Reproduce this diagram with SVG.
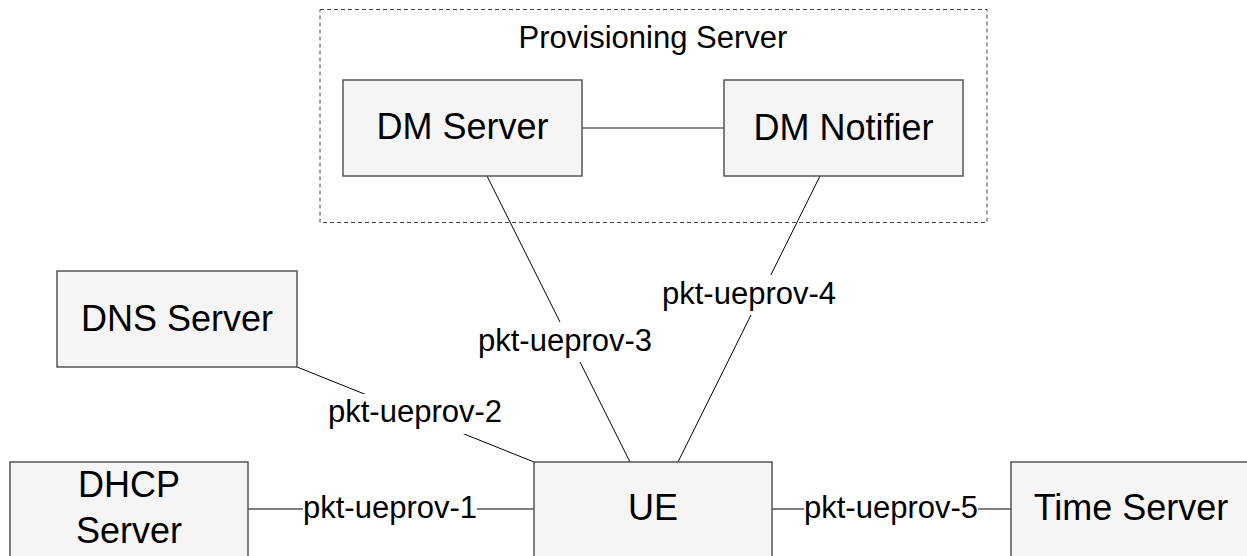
<svg xmlns="http://www.w3.org/2000/svg" width="1247" height="556" viewBox="0 0 1247 556">
  <style>
    .box { fill: #f5f5f5; stroke: #555555; stroke-width: 1.5; }
    .group { fill: none; stroke: #444444; stroke-width: 1; stroke-dasharray: 4 3; }
    .ntext { font-family: "Liberation Sans", Arial, sans-serif; font-size: 36px; fill: #000000; text-anchor: middle; }
    .gtext { font-family: "Liberation Sans", Arial, sans-serif; font-size: 31px; fill: #000000; text-anchor: middle; }
    .edge { stroke: #000000; stroke-width: 1; fill: none; }
    .edge-gray { stroke: #666666; stroke-width: 1.5; fill: none; }
    .lbg { fill: #ffffff; stroke: none; }
    .ltext { font-family: "Liberation Sans", Arial, sans-serif; font-size: 31px; fill: #000000; text-anchor: middle; }
  </style>
  <rect x="0" y="0" width="1247" height="556" fill="#ffffff"/>

  <g id="connectors">
    <line class="edge-gray" x1="582" y1="128" x2="724" y2="128"/>
    <line class="edge" x1="248" y1="509" x2="534" y2="509"/>
    <line class="edge" x1="297" y1="367" x2="534" y2="462"/>
    <line class="edge" x1="487" y1="176" x2="630" y2="462"/>
    <line class="edge" x1="820" y1="176" x2="678" y2="462"/>
    <line class="edge" x1="772" y1="509" x2="1011" y2="509"/>

    <g id="label-1">
      <rect class="lbg" x="303" y="494" width="174" height="30"/>
      <text class="ltext" x="390" y="518">pkt-ueprov-1</text>
    </g>
    <g id="label-2">
      <rect class="lbg" x="328" y="394" width="174" height="40"/>
      <text class="ltext" x="415" y="422">pkt-ueprov-2</text>
    </g>
    <g id="label-3">
      <rect class="lbg" x="478" y="322" width="174" height="40"/>
      <text class="ltext" x="565" y="351">pkt-ueprov-3</text>
    </g>
    <g id="label-4">
      <rect class="lbg" x="662" y="275" width="174" height="40"/>
      <text class="ltext" x="749" y="304">pkt-ueprov-4</text>
    </g>
    <g id="label-5">
      <rect class="lbg" x="804" y="494" width="174" height="30"/>
      <text class="ltext" x="891" y="518">pkt-ueprov-5</text>
    </g>
  </g>

  <g id="provisioning-server">
    <rect class="group" x="320" y="9.5" width="667" height="213"/>
    <text class="gtext" x="653" y="48">Provisioning Server</text>
  </g>

  <g id="dm-server">
    <rect class="box" x="343" y="80" width="239" height="96"/>
    <text class="ntext" x="462.5" y="139">DM Server</text>
  </g>

  <g id="dm-notifier">
    <rect class="box" x="724" y="80" width="239" height="96"/>
    <text class="ntext" x="843.5" y="140">DM Notifier</text>
  </g>

  <g id="dns-server">
    <rect class="box" x="57" y="271" width="240" height="96"/>
    <text class="ntext" x="177" y="331">DNS Server</text>
  </g>

  <g id="dhcp-server">
    <rect class="box" x="10" y="462" width="238" height="100"/>
    <text class="ntext" x="129" y="497">DHCP</text>
    <text class="ntext" x="129" y="543">Server</text>
  </g>

  <g id="ue">
    <rect class="box" x="534" y="462" width="238" height="100"/>
    <text class="ntext" x="653" y="520">UE</text>
  </g>

  <g id="time-server">
    <rect class="box" x="1011" y="462" width="240" height="100"/>
    <text class="ntext" x="1131" y="520">Time Server</text>
  </g>
</svg>
